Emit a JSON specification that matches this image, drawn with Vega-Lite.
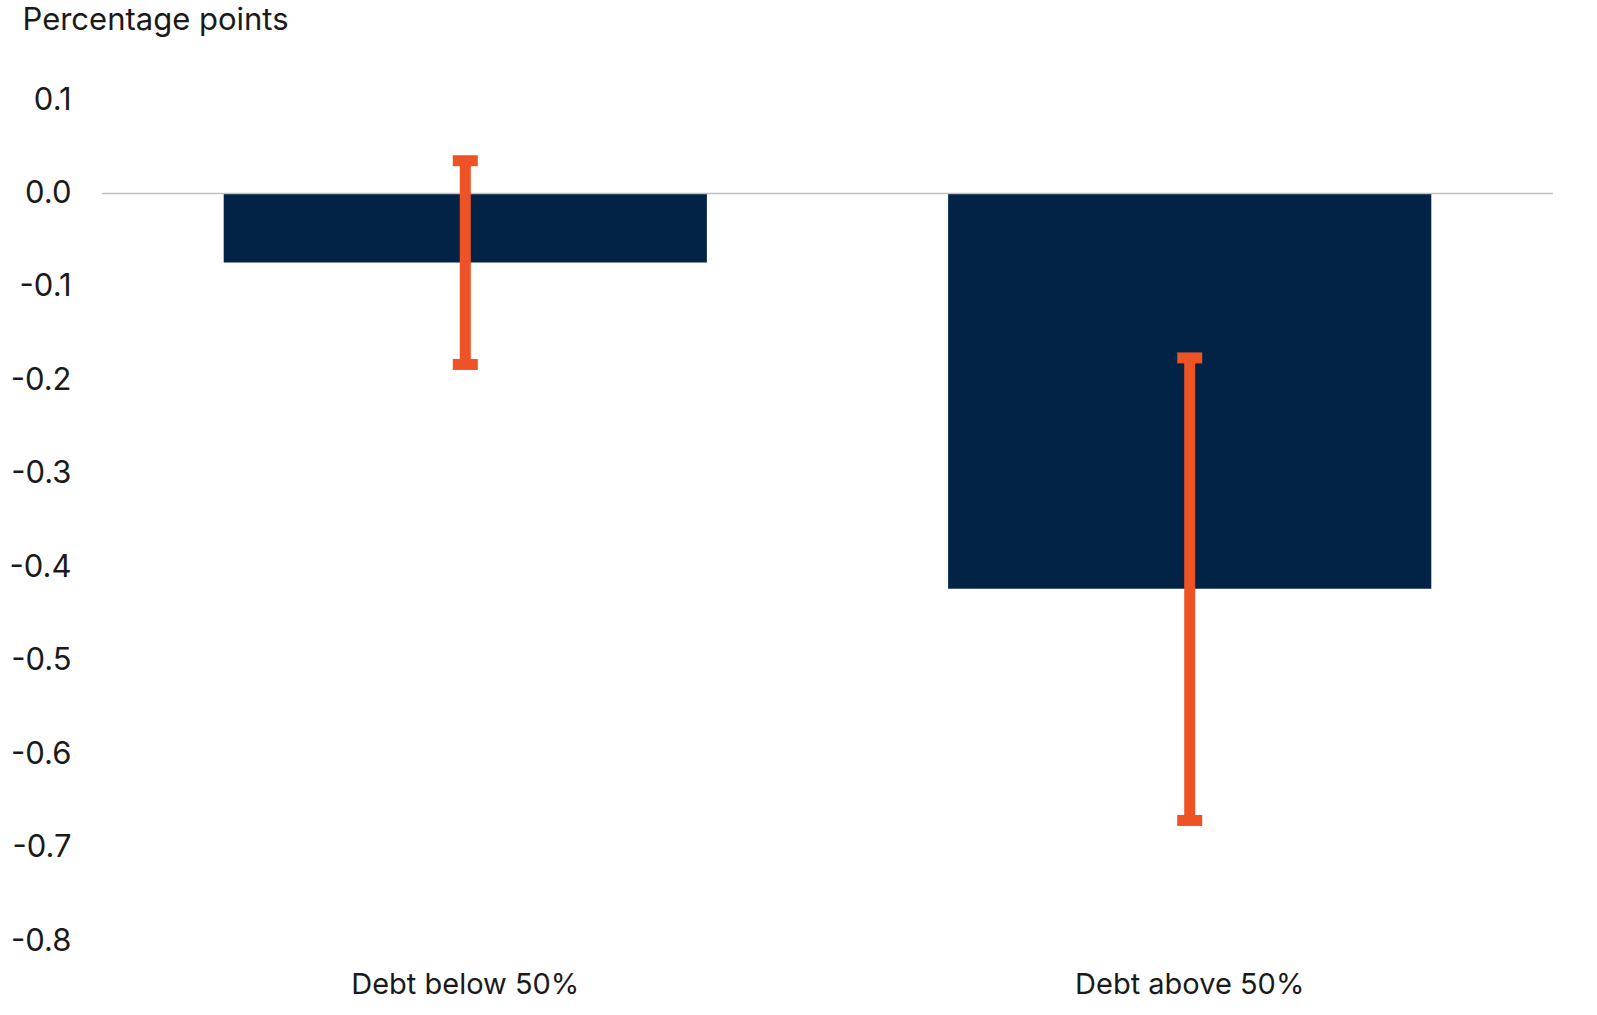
{
  "$schema": "https://vega.github.io/schema/vega-lite/v6.json",
  "autosize": {"type": "none"},
  "padding": {"left": 102, "top": 100, "right": 41, "bottom": 74},
  "width": 1451,
  "height": 841,
  "background": "white",
  "config": {
    "view": {"stroke": null},
    "font": "Inter",
    "axis": {"labelFont": "Inter", "titleFont": "Inter", "labelColor": "#1a1a1a", "titleColor": "#1a1a1a"}
  },
  "data": {
    "values": [
      {"group": "Debt below 50%", "effect": -0.074, "low": -0.183, "high": 0.035},
      {"group": "Debt above 50%", "effect": -0.423, "low": -0.671, "high": -0.176}
    ]
  },
  "encoding": {
    "x": {
      "field": "group", "type": "nominal", "sort": null,
      "scale": {"paddingInner": 0.333, "paddingOuter": 0.168},
      "axis": {"title": null, "labelAngle": 0, "domain": false, "ticks": false, "labelFontSize": 29, "labelPadding": 29, "labelLimit": 0}
    }
  },
  "layer": [
    {
      "mark": {"type": "bar", "color": "#022346"},
      "encoding": {
        "y": {
          "field": "effect", "type": "quantitative",
          "scale": {"domain": [-0.8, 0.1], "nice": false, "zero": false},
          "axis": {
            "values": [0.1, 0, -0.1, -0.2, -0.3, -0.4, -0.5, -0.6, -0.7, -0.8],
            "format": ".1f", "labelExpr": "replace(datum.label, '−', '-')",
            "grid": false, "domain": false, "ticks": false,
            "labelFontSize": 31, "labelPadding": 31,
            "title": "Percentage points", "titleAngle": 0, "titleAlign": "left",
            "titleBaseline": "middle", "titleFontSize": 31, "titleFontWeight": "normal",
            "titleX": -80, "titleY": -80
          }
        }
      }
    },
    {
      "mark": {"type": "rule", "color": "#BFBFBF", "strokeWidth": 1.5},
      "data": {"values": [{"v": 0}]},
      "encoding": {"y": {"datum": 0}, "x": null}
    },
    {
      "mark": {"type": "rule", "color": "#EE5325", "strokeWidth": 11},
      "encoding": {"y": {"field": "low", "type": "quantitative"}, "y2": {"field": "high"}}
    },
    {
      "mark": {"type": "tick", "color": "#EE5325", "opacity": 1, "size": 25, "thickness": 11, "orient": "horizontal"},
      "encoding": {"y": {"field": "low", "type": "quantitative"}}
    },
    {
      "mark": {"type": "tick", "color": "#EE5325", "opacity": 1, "size": 25, "thickness": 11, "orient": "horizontal"},
      "encoding": {"y": {"field": "high", "type": "quantitative"}}
    }
  ]
}
